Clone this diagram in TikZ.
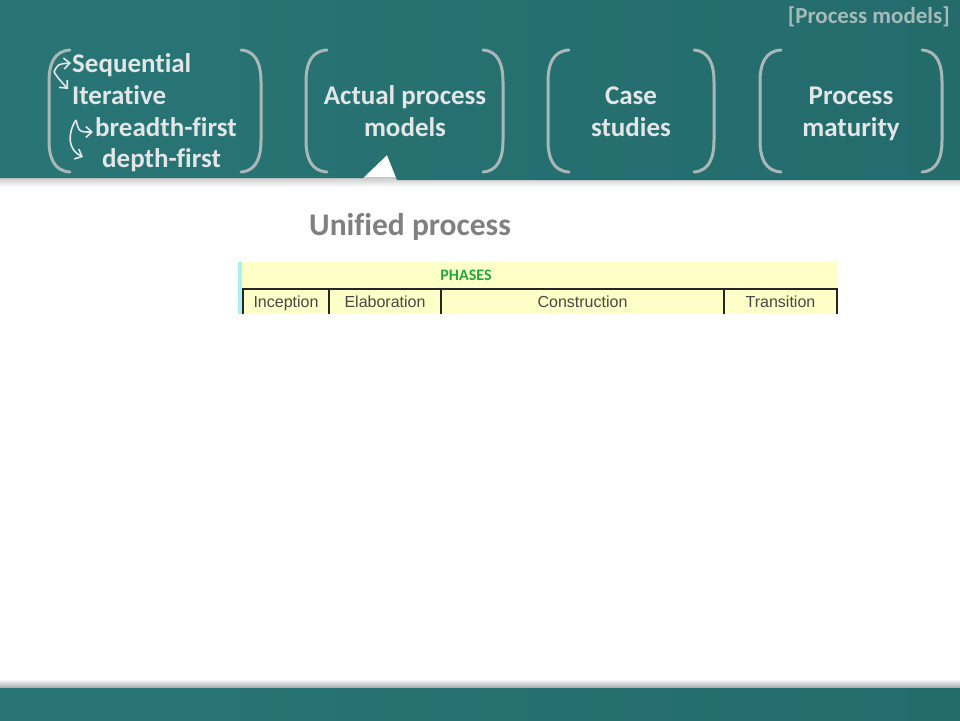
\documentclass[tikz,border=0pt]{standalone}
\usepackage{fontspec}
\setmainfont{Carlito}[RawFeature=-liga]
\newfontfamily\arialfont{Liberation Sans}
\usetikzlibrary{arrows.meta}
\definecolor{banddark}{HTML}{246B6C}
\definecolor{bandmid}{HTML}{2C8282}
\definecolor{bandleft}{HTML}{297575}
\definecolor{menutext}{HTML}{E2E6E6}
\definecolor{bracketgray}{HTML}{A9B7B7}
\definecolor{tagtext}{HTML}{A6BABA}
\definecolor{phaseyellow}{HTML}{FFFFC8}
\definecolor{phasegreen}{HTML}{20A83E}
\definecolor{phasecyan}{HTML}{A8F0F2}
\tikzset{
  menu/.style={text=menutext, font=\bfseries\fontsize{27}{32}\selectfont, inner sep=0pt, align=center},
  bracket/.style={draw=bracketgray, line width=3pt, line cap=round},
  menuarrow/.style={draw=menutext, line width=1.6pt, -{Straight Barb[length=6pt,width=11pt]}},
  phasecell/.style={font=\arialfont\fontsize{16}{18}\selectfont, text=black!72, inner sep=0pt, anchor=base},
  phaseline/.style={draw=black!85, line width=1.6pt},
}
\begin{document}
\begin{tikzpicture}[x=1pt,y=-1pt]
    \useasboundingbox (0,0) rectangle (960,720);
    \fill[white] (0,0) rectangle (960,720);

    \shade[top color=black!22, bottom color=white] (0,177) rectangle (960,187);
    \shade[left color=bandleft, middle color=bandmid, right color=banddark]
      (0,0) -- (960,0) -- (960,180) -- (397,180) -- (387,155) -- (363,178) -- (0,178) -- cycle;
    \shade[top color=white, bottom color=black!35] (0,679) rectangle (960,688);
    \shade[left color=bandleft, middle color=bandmid, right color=banddark] (0,688) rectangle (960,720);

    \node[text=tagtext, font=\bfseries\fontsize{23}{26}\selectfont, anchor=east, inner sep=0pt] (tag) at (950,17) {[Process models]};

    \draw[bracket] (70,50) .. controls (54,51) and (49,64) .. (49,82) -- (49,140) .. controls (49,158) and (54,171) .. (70,172);
    \draw[bracket] (241,50) .. controls (256,51) and (261,64) .. (261,82) -- (261,140) .. controls (261,158) and (256,171) .. (241,172);
    \draw[bracket] (327,50) .. controls (311,51) and (306,64) .. (306,82) -- (306,140) .. controls (306,158) and (311,171) .. (327,172);
    \draw[bracket] (483,50) .. controls (498,51) and (503,64) .. (503,82) -- (503,140) .. controls (503,158) and (498,171) .. (483,172);
    \draw[bracket] (569,50) .. controls (553,51) and (548,64) .. (548,82) -- (548,140) .. controls (548,158) and (553,171) .. (569,172);
    \draw[bracket] (694,50) .. controls (709,51) and (714,64) .. (714,82) -- (714,140) .. controls (714,158) and (709,171) .. (694,172);
    \draw[bracket] (781,50) .. controls (765,51) and (760,64) .. (760,82) -- (760,140) .. controls (760,158) and (765,171) .. (781,172);
    \draw[bracket] (922,50) .. controls (937,51) and (942,64) .. (942,82) -- (942,140) .. controls (942,158) and (937,171) .. (922,172);

    \node[menu, anchor=base west] (seq) at (72,72) {Sequential};
    \node[menu, anchor=base west] (iter) at (72,104) {Iterative};
    \node[menu, anchor=base west] (bfs) at (95,136) {breadth-first};
    \node[menu, anchor=base west] (dfs) at (102,167) {depth-first};
    \node[menu, anchor=base] (actual) at (405,136) {Actual process\\models};
    \node[menu, anchor=base] (cases) at (631,136) {Case\\studies};
    \node[menu, anchor=base] (maturity) at (851,136) {Process\\maturity};

    \coordinate (seqfork) at (54,72);
    \coordinate (iterfork) at (76,120);
    \draw[menuarrow] (seqfork) .. controls (58,64) .. ([shift={(-1,-9)}]seq.base west);
    \draw[menuarrow] (seqfork) .. controls (58,78) .. ([shift={(-4,-15)}]iter.base west);
    \draw[menuarrow] (iterfork) .. controls (79,132) .. ([shift={(-2,-4)}]bfs.base west);
    \draw[menuarrow] (iterfork) .. controls (67,134) and (68,150) .. ([shift={(-19,-10)}]dfs.base west);

    \node[text=black!50, font=\bfseries\fontsize{31.5}{36}\selectfont, anchor=west, inner sep=0pt] (title) at (309,227) {Unified process};

    \fill[phasecyan] (238,262) rectangle (242,314);
    \fill[phaseyellow] (242,262) rectangle (838,314);
    \node[text=phasegreen, font=\bfseries\fontsize{16}{18}\selectfont, inner sep=0pt] (phases) at (466,275) {PHASES};
    \draw[phaseline] (243,314) -- (243,289) -- (837,289) -- (837,314);
    \draw[phaseline] (329,289) -- (329,314);
    \draw[phaseline] (441,289) -- (441,314);
    \draw[phaseline] (724,289) -- (724,314);
    \node[phasecell] (inception) at (286,307) {Inception};
    \node[phasecell] (elaboration) at (385,307) {Elaboration};
    \node[phasecell] (construction) at (582.5,307) {Construction};
    \node[phasecell] (transition) at (780.5,307) {Transition};

  \end{tikzpicture}
\end{document}
